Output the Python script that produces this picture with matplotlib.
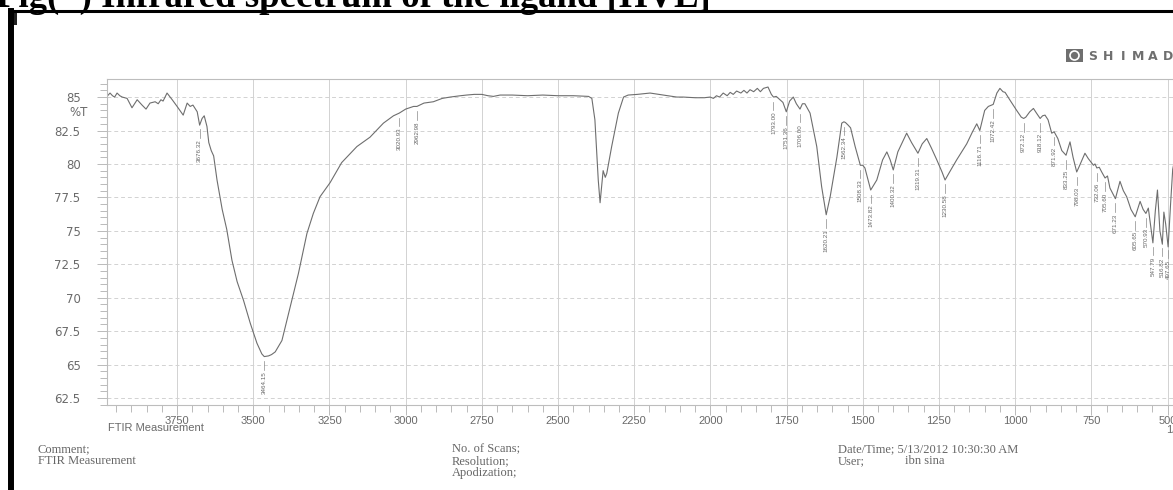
import numpy as np
import matplotlib.pyplot as plt
from matplotlib.ticker import MultipleLocator, FuncFormatter
from matplotlib.lines import Line2D
from matplotlib.patches import Rectangle, Ellipse

# FTIR spectrum of the ligand, wavenumber (1/cm) vs %T
wavenumber = [3978, 3970, 3962, 3955, 3947, 3938, 3930, 3914, 3898, 3881, 3865, 3852,
              3839, 3822, 3812, 3803, 3796, 3783, 3766, 3750, 3730, 3717, 3707, 3698,
              3684, 3676, 3668, 3661, 3652, 3646, 3638, 3630, 3619, 3602, 3587, 3570,
              3553, 3532, 3510, 3488, 3472, 3464, 3450, 3440, 3428, 3406, 3379, 3352,
              3324, 3303, 3281, 3248, 3210, 3160, 3117, 3073, 3040, 3021, 3000, 2974,
              2963, 2940, 2909, 2880, 2854, 2820, 2800, 2775, 2750, 2730, 2712, 2690,
              2650, 2600, 2550, 2500, 2450, 2400, 2389, 2379, 2368, 2362, 2352, 2345,
              2340, 2324, 2302, 2285, 2270, 2240, 2198, 2170, 2140, 2110, 2089, 2050,
              2020, 2001, 1990, 1980, 1970, 1958, 1945, 1935, 1925, 1914, 1900, 1890,
              1880, 1870, 1858, 1846, 1836, 1826, 1811, 1800, 1793, 1784, 1772, 1762,
              1751, 1740, 1728, 1718, 1706, 1698, 1690, 1673, 1651, 1635, 1620, 1607,
              1585, 1569, 1562, 1557, 1548, 1540, 1525, 1508, 1500, 1493, 1474, 1454,
              1435, 1421, 1410, 1400, 1385, 1356, 1340, 1319, 1305, 1290, 1275, 1257,
              1240, 1230, 1215, 1192, 1159, 1140, 1126, 1116, 1100, 1088, 1072, 1060,
              1050, 1040, 1033, 1015, 995, 980, 972, 965, 952, 940, 930, 918,
              910, 902, 892, 880, 872, 860, 847, 833, 826, 820, 810, 798,
              790, 771, 760, 743, 738, 732, 724, 716, 705, 697, 689, 680,
              671, 656, 645, 634, 620, 606, 590, 580, 571, 563, 556, 548,
              540, 533, 525, 517, 512, 506, 498, 490, 483, 475, 460, 440,
              420, 405]
transmittance = [85.1, 85.3, 85.1, 85.0, 85.3, 85.1, 85.0, 84.9, 84.2, 84.8, 84.4, 84.1,
                 84.55, 84.65, 84.5, 84.8, 84.7, 85.3, 84.8, 84.3, 83.65, 84.55, 84.3, 84.4,
                 83.9, 82.9, 83.4, 83.6, 82.8, 81.6, 81.0, 80.6, 78.8, 76.6, 75.1, 72.8,
                 71.2, 69.8, 68.1, 66.6, 65.8, 65.6, 65.65, 65.75, 65.95, 66.8, 69.3, 71.8,
                 74.8, 76.3, 77.55, 78.6, 80.1, 81.3, 82.0, 83.05, 83.6, 83.8, 84.1, 84.3,
                 84.3, 84.55, 84.65, 84.9, 85.0, 85.1, 85.15, 85.2, 85.2, 85.1, 85.05, 85.15,
                 85.15, 85.1, 85.15, 85.1, 85.1, 85.05, 84.9, 83.3, 78.8, 77.1, 79.5, 79.0,
                 79.3, 81.3, 83.8, 85.0, 85.15, 85.2, 85.3, 85.2, 85.1, 85.0, 85.0, 84.95,
                 84.95, 85.0, 84.9, 85.1, 85.0, 85.3, 85.1, 85.35, 85.2, 85.45, 85.3, 85.5,
                 85.3, 85.55, 85.4, 85.65, 85.4, 85.65, 85.75, 85.2, 85.0, 85.05, 84.8, 84.6,
                 83.9, 84.7, 85.0, 84.5, 84.1, 84.5, 84.5, 83.8, 81.3, 78.3, 76.2, 77.55,
                 80.5, 83.05, 83.15, 83.1, 82.9, 82.7, 81.3, 79.9, 79.9, 79.7, 78.05, 78.8,
                 80.3, 80.9, 80.3, 79.55, 80.9, 82.3, 81.6, 80.8, 81.5, 81.9, 81.2, 80.3,
                 79.4, 78.8, 79.4, 80.3, 81.5, 82.4, 83.0, 82.5, 84.0, 84.3, 84.45, 85.3,
                 85.65, 85.4, 85.35, 84.7, 84.0, 83.5, 83.4, 83.5, 83.9, 84.15, 83.8, 83.4,
                 83.6, 83.65, 83.3, 82.3, 82.4, 81.9, 81.0, 80.65, 81.2, 81.65, 80.5, 79.4,
                 79.8, 80.8, 80.4, 79.9, 80.0, 79.7, 79.75, 79.4, 78.95, 79.1, 78.2, 77.8,
                 77.4, 78.7, 78.0, 77.55, 76.6, 76.05, 77.2, 76.6, 76.3, 76.7, 75.5, 74.1,
                 76.5, 78.05, 75.0, 74.0, 76.4, 75.5, 73.8, 77.0, 79.6, 80.5, 81.0, 81.5,
                 82.0, 82.0]

# picked peaks
peak_wn = [3676.32, 3464.15, 3020.93, 2962.98, 1793.00, 1751.36, 1706.00, 1620.21,
           1562.34, 1508.33, 1473.82, 1400.32, 1319.31, 1230.58, 1116.71, 1072.42,
           972.12, 918.12, 871.92, 833.25, 798.03, 732.06, 705.60, 671.23, 605.65,
           570.93, 547.79, 516.82, 497.65]

y_ticks = [62.5, 65, 67.5, 70, 72.5, 75, 77.5, 80, 82.5, 85]

W, H = 1173, 490


def px(x, y):
    # pixel position -> figure fraction
    return x / W, 1 - y / H


fig = plt.figure(figsize=(W / 100, H / 100), dpi=100)
fig.patch.set_facecolor('white')

ax = fig.add_axes([107 / W, 1 - 405 / H, (1198 - 107) / W, (405 - 79) / H])
ax.plot(wavenumber, transmittance, color='#6e6e6e', lw=0.8)
ax.set_xlim(3980, 400)
ax.set_ylim(61.98, 86.35)

ax.xaxis.set_major_locator(MultipleLocator(250))
ax.xaxis.set_minor_locator(MultipleLocator(50))
ax.set_yticks(y_ticks)
ax.yaxis.set_minor_locator(MultipleLocator(0.5))
ax.yaxis.set_major_formatter(FuncFormatter(lambda v, p: '%g' % v))

ax.grid(axis='x', which='major', color='#d2d2d2', lw=0.7)
ax.grid(axis='y', which='major', color='#d2d2d2', lw=0.7, ls=(0, (4, 3)))
for s in ['left', 'top', 'bottom']:
    ax.spines[s].set_color('#bdbdbd')
    ax.spines[s].set_linewidth(0.8)
ax.spines['right'].set_visible(False)

ax.tick_params(which='both', direction='out', color='#b0b0b0', width=0.6,
               labelcolor='#6a6a6a', labelsize=8)
ax.tick_params(which='major', length=7)
ax.tick_params(which='minor', length=5)
ax.tick_params(axis='x', pad=1)
ax.tick_params(axis='y', pad=12, labelsize=8.5)
for lab in ax.get_xticklabels():
    lab.set_family('Liberation Sans')
for lab in ax.get_yticklabels():
    lab.set_family('DejaVu Sans')

# peak markers and labels
wn_asc = np.array(wavenumber[::-1], dtype=float)
t_asc = np.array(transmittance[::-1], dtype=float)
for w in peak_wn:
    t = np.interp(w, wn_asc, t_asc)
    ax.plot([w, w], [t - 0.35, t - 1.0], color='#8a8a8a', lw=0.5)
    ax.text(w, t - 1.1, '%.2f' % w, rotation=90, ha='center', va='top',
            fontsize=4.5, color='#666666', family='Liberation Sans')

sans_grey = dict(family='Liberation Sans', size=8, color='#6a6a6a')
fig.text(*px(88, 113), '%T', ha='right', va='center', family='DejaVu Sans',
         size=8.5, color='#6a6a6a')
fig.text(*px(108, 428), 'FTIR Measurement', ha='left', va='center', **sans_grey)
fig.text(*px(1166, 430), '1/cm', ha='left', va='center', **sans_grey)

# footer
serif_grey = dict(family='Liberation Serif', size=9, color='#666666', va='center', ha='left')
fig.text(*px(38, 449), 'Comment;', **serif_grey)
fig.text(*px(38, 461), 'FTIR Measurement', **serif_grey)
fig.text(*px(452, 449), 'No. of Scans;', **serif_grey)
fig.text(*px(452, 461), 'Resolution;', **serif_grey)
fig.text(*px(452, 473), 'Apodization;', **serif_grey)
fig.text(*px(838, 449), 'Date/Time; 5/13/2012 10:30:30 AM', **serif_grey)
fig.text(*px(838, 461), 'User;', **serif_grey)
fig.text(*px(905, 461), 'ibn sina', **serif_grey)

# maker logo
x0, y0 = px(1066, 62)
fig.add_artist(Rectangle((x0, y0), 17 / W, 13 / H, transform=fig.transFigure,
                         facecolor='#6f6f6f', edgecolor='none'))
cx, cy = px(1074.5, 55.5)
fig.add_artist(Ellipse((cx, cy), 9 / W, 9 / H, transform=fig.transFigure,
                       facecolor='none', edgecolor='white', lw=1.2))
for i, ch in enumerate('SHIMADZU'):
    fig.text(*px(1093 + i * 15, 56), ch, ha='center', va='center',
             family='DejaVu Sans', weight='bold', size=9, color='#6f6f6f')

# page border and caption
fig.add_artist(Line2D([11 / W, 11 / W], [0, 1 - 11.5 / H], transform=fig.transFigure,
                      color='black', lw=4.3, solid_capstyle='projecting'))
fig.add_artist(Line2D([11 / W, 1], [1 - 11.5 / H, 1 - 11.5 / H], transform=fig.transFigure,
                      color='black', lw=2.2))
nx, ny = px(13, 25)
fig.add_artist(Rectangle((nx, ny), 4 / W, 12 / H, transform=fig.transFigure,
                         facecolor='#222222', edgecolor='none'))
fig.text(-4 / W, 1 - 6.5 / H, 'Fig(") Infrared spectrum of the ligand [HVL]',
         ha='left', va='baseline', family='Liberation Serif', weight='bold',
         size=26.5, color='black')

fig.savefig('out.png', dpi=100)
